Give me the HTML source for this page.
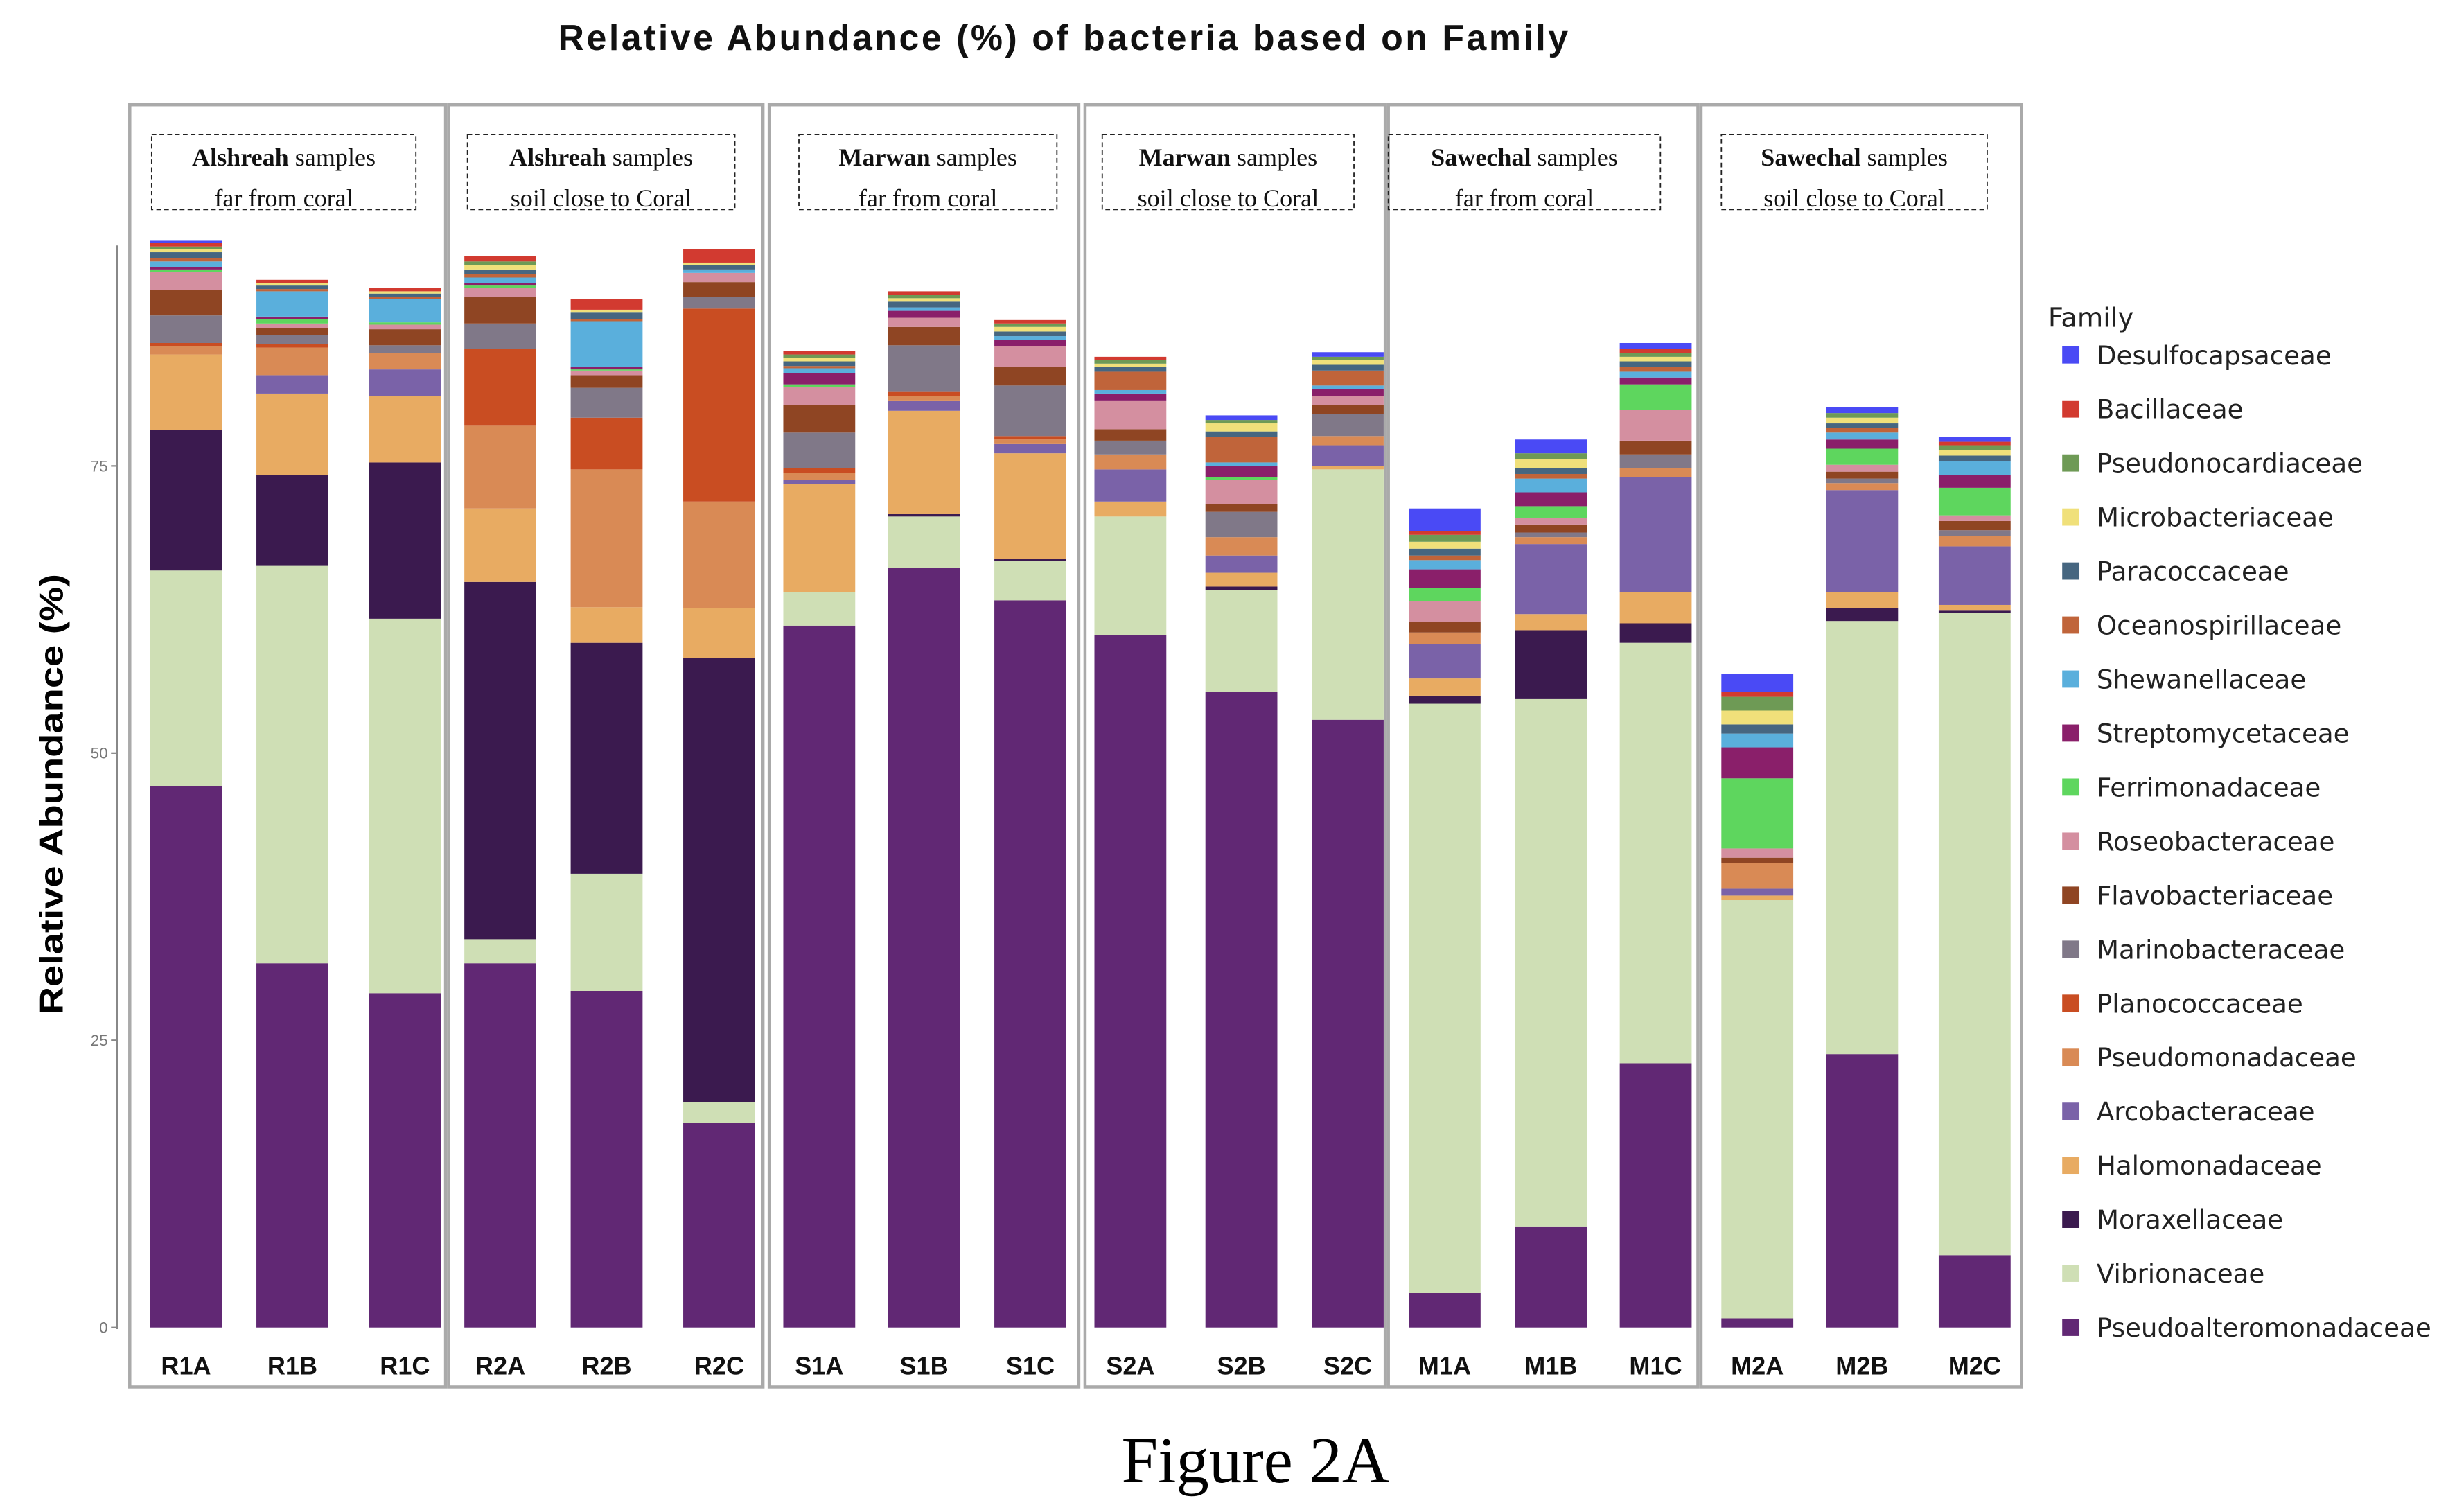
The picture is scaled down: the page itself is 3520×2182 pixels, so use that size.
<!DOCTYPE html>
<html><head><meta charset="utf-8"><style>
html,body{margin:0;padding:0;background:#fff;}
svg{display:block;}
</style></head><body>
<svg id="chart" xmlns="http://www.w3.org/2000/svg" width="3520" height="2182" viewBox="0 0 1560 967">
<rect width="1560" height="967" fill="#fff"/>
<text x="680" y="32" text-anchor="middle" font-family="Liberation Sans, sans-serif" font-weight="bold" font-size="23" textLength="646" lengthAdjust="spacing" fill="#111">Relative Abundance (%) of bacteria based on Family</text>
<text transform="translate(40,508) rotate(-90)" text-anchor="middle" font-family="Liberation Sans, sans-serif" font-weight="bold" font-size="21" textLength="282" lengthAdjust="spacingAndGlyphs" fill="#000">Relative Abundance (%)</text>
<text x="803" y="948" text-anchor="middle" font-family="Liberation Serif, serif" font-size="42" fill="#000">Figure 2A</text>
<g id="panels"></g>
<g id="bars"></g>
<g id="axis"></g>
<g id="legend"></g>
</svg>
<script>
const families = ["Pseudoalteromonadaceae","Vibrionaceae","Moraxellaceae","Halomonadaceae","Arcobacteraceae","Pseudomonadaceae","Planococcaceae","Marinobacteraceae","Flavobacteriaceae","Roseobacteraceae","Ferrimonadaceae","Streptomycetaceae","Shewanellaceae","Oceanospirillaceae","Paracoccaceae","Microbacteriaceae","Pseudonocardiaceae","Bacillaceae","Desulfocapsaceae"];
const colors = ["#612874","#cfdfb5","#3b1a4f","#e8ab62","#7a62a8","#d98a55","#c94d22","#807888","#8f4523","#d48fa0","#5ed65e","#8a1f6a","#5aafdc","#c0643a","#466680","#f0e07a","#6e9a55","#d23a30","#4a4af5"];
const categories = ["R1A","R1B","R1C","R2A","R2B","R2C","S1A","S1B","S1C","S2A","S2B","S2C","M1A","M1B","M1C","M2A","M2B","M2C"];
const R1A=[47.1,18.8,12.2,6.6,0,0.7,0.3,2.4,2.2,1.6,0.2,0.2,0.5,0.3,0.5,0.3,0.2,0.3,0.2];
const R1B=[31.7,34.6,7.9,7.1,1.6,2.4,0.3,0.8,0.6,0.4,0.4,0.2,2.2,0.2,0.3,0.2,0,0.3,0];
const R1C=[29.1,32.6,13.6,5.8,2.3,1.4,0,0.7,1.4,0.4,0.2,0,2.0,0.2,0.3,0.2,0,0.3,0];
const R2A=[31.7,2.1,31.1,6.4,0,7.2,6.7,2.2,2.3,0.8,0.2,0.2,0.5,0.3,0.4,0.4,0.3,0.5,0];
const R2B=[29.3,10.2,20.1,3.1,0,12,4.5,2.6,1.1,0.4,0.1,0.2,4.0,0.2,0.6,0.2,0,0.9,0];
const R2C=[17.8,1.8,38.7,4.3,0,9.3,16.8,1.0,1.3,0.8,0,0,0.3,0,0.4,0.2,0,1.2,0];
const S1A=[61.1,2.9,0,9.4,0.4,0.6,0.4,3.1,2.4,1.6,0.2,1.0,0.4,0.2,0.4,0.3,0.3,0.3,0];
const S1B=[66.1,4.5,0.2,9.0,0.9,0.4,0.4,4.0,1.6,0.8,0,0.6,0.3,0,0.5,0.3,0.3,0.3,0];
const S1C=[63.3,3.4,0.2,9.2,0.8,0.4,0.3,4.4,1.6,1.8,0,0.6,0.3,0,0.4,0.4,0.3,0.3,0];
const S2A=[60.3,10.3,0,1.3,2.8,1.3,0,1.2,1.0,2.5,0,0.6,0.3,1.6,0.4,0.3,0.3,0.3,0];
const S2B=[55.3,8.9,0.3,1.2,1.5,1.6,0,2.2,0.7,2.1,0.2,1.0,0.3,2.2,0.5,0.7,0.3,0,0.4];
const S2C=[52.9,21.8,0,0.3,1.8,0.8,0,1.9,0.8,0.8,0,0.6,0.3,1.3,0.5,0.4,0.3,0,0.4];
const M1A=[3.0,51.3,0.7,1.5,3.0,1.0,0,0,0.9,1.8,1.2,1.6,0.8,0.4,0.6,0.6,0.6,0.3,2.0];
const M1B=[8.8,45.9,6.0,1.4,6.1,0.6,0,0.4,0.7,0.6,1.0,1.2,1.2,0.4,0.5,0.8,0.5,0,1.2];
const M1C=[23.0,36.6,1.7,2.7,10.0,0.8,0,1.2,1.2,2.7,2.2,0.6,0.5,0.4,0.5,0.4,0.3,0.4,0.5];
const M2A=[0.8,36.4,0,0.4,0.6,2.2,0,0,0.5,0.8,6.1,2.7,1.2,0,0.8,1.2,1.2,0.4,1.6];
const M2B=[23.8,37.7,1.1,1.4,8.9,0.6,0,0.4,0.6,0.6,1.4,0.8,0.6,0.4,0.4,0.5,0.4,0,0.5];
const M2C=[6.3,55.9,0.2,0.5,5.1,0.9,0,0.5,0.8,0.5,2.4,1.1,1.2,0,0.5,0.5,0.4,0.3,0.4];
const sampleValues=[R1A,R1B,R1C,R2A,R2B,R2C,S1A,S1B,S1C,S2A,S2B,S2C,M1A,M1B,M1C,M2A,M2B,M2C];
const yTicks=[0,25,50,75];
const panelTitles=[["Alshreah","samples","far from coral"],["Alshreah","samples","soil close to Coral"],["Marwan","samples","far from coral"],["Marwan","samples","soil close to Coral"],["Sawechal","samples","far from coral"],["Sawechal","samples","soil close to Coral"]];

const NS="http://www.w3.org/2000/svg";
function mk(tag,attrs,parent){const e=document.createElementNS(NS,tag);for(const k in attrs)e.setAttribute(k,attrs[k]);parent.appendChild(e);return e;}
const y=v=>849-v*7.347;
const panelX=[[83,285],[287,488],[492,690],[694,886],[888,1086],[1088,1293]];
const barCenters=[119,187,259,320,388,460,524,591,659,723,794,862,924,992,1059,1124,1191,1263];
const x=i=>barCenters[i];
const bw=46;

const gp=document.getElementById('panels');
const dash=[[97,266],[299,470],[511,676],[705,866],[888,1062],[1101,1271]];
panelX.forEach((p,i)=>{
  const r=mk('rect',{x:p[0],y:67,width:p[1]-p[0],height:820,fill:'none',stroke:'#aaa','stroke-width':2},gp);
  
  
  const d=mk('rect',{x:dash[i][0],y:86,width:dash[i][1]-dash[i][0],height:48,fill:'none',stroke:'#222','stroke-width':0.8,'stroke-dasharray':'3,2'},gp);
  
  
  const cx=(dash[i][0]+dash[i][1])/2;
  const t=mk('text',{x:cx,y:106,'text-anchor':'middle','font-family':'Liberation Serif, serif','font-size':16,fill:'#111'},gp);
  
  
  const b=mk('tspan',{'font-weight':'bold'},t);b.textContent=panelTitles[i][0]+' ';
  const s=mk('tspan',{},t);s.textContent=panelTitles[i][1];
  const t2=mk('text',{x:cx,y:132,'text-anchor':'middle','font-family':'Liberation Serif, serif','font-size':16,fill:'#111'},gp);
  
  
  t2.textContent=panelTitles[i][2];
});

const gb=document.getElementById('bars');
sampleValues.forEach((vals,i)=>{
  let cum=0;
  vals.forEach((v,f)=>{
    if(v<=0)return;
    const r=mk('rect',{x:x(i)-bw/2,y:y(cum+v),width:bw,height:y(cum)-y(cum+v),fill:colors[f]},gb);
    
    
    cum+=v;
  });
  const t=mk('text',{x:x(i),y:879,'text-anchor':'middle','font-family':'Liberation Sans, sans-serif','font-weight':'bold','font-size':16,fill:'#111'},gb);
  
  
  t.textContent=categories[i];
});

const ga=document.getElementById('axis');
const al=mk('line',{x1:75,y1:157,x2:75,y2:850,stroke:'#888','stroke-width':1.2},ga);


yTicks.forEach(v=>{
  const l=mk('line',{x1:71,y1:y(v),x2:75,y2:y(v),stroke:'#888','stroke-width':1},ga);
  
  
  const t=mk('text',{x:69,y:y(v)+3.5,'text-anchor':'end','font-family':'Liberation Sans, sans-serif','font-size':10,fill:'#777'},ga);
  
  
  t.textContent=v;
});

const gl=document.getElementById('legend');
const lt=mk('text',{x:1310,y:209,'font-family':'DejaVu Sans, sans-serif','font-size':17,fill:'#222'},gl);


lt.textContent='Family';
for(let k=0;k<families.length;k++){
  const f=families.length-1-k;
  const yy=227+k*34.55;
  const g=mk('g',{},gl);
  
  
  mk('rect',{x:1319,y:yy-5.5,width:11,height:11,fill:colors[f]},g);
  const t=mk('text',{x:1341,y:yy+6,'font-family':'DejaVu Sans, sans-serif','font-size':16.5,fill:'#222'},g);
  t.textContent=families[f];
}
</script>
</body></html>
